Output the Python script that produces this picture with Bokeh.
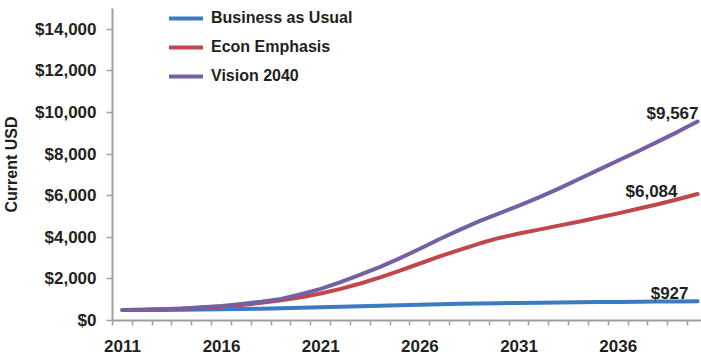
from bokeh.plotting import figure
from bokeh.models import (Range1d, FixedTicker, NumeralTickFormatter, Legend, LegendItem,
                          ColumnDataSource)
from bokeh.embed import file_html
from bokeh.resources import INLINE
from bokeh.core.properties import value

# ---------------- data ----------------
years = list(range(2011, 2041))

business_as_usual = [500, 505, 510, 515, 525, 535, 550, 565, 585, 610,
                     635, 660, 685, 710, 735, 760, 780, 800, 815, 830,
                     845, 855, 865, 875, 885, 893, 901, 910, 918, 927]

econ_emphasis = [500, 520, 540, 570, 610, 670, 750, 850, 970, 1120,
                 1300, 1520, 1780, 2070, 2400, 2740, 3080, 3400, 3700, 3970,
                 4180, 4370, 4560, 4750, 4950, 5150, 5370, 5590, 5830, 6084]

vision_2040 = [500, 520, 545, 580, 640, 700, 790, 900, 1040, 1260,
               1520, 1840, 2200, 2580, 3000, 3450, 3920, 4360, 4780, 5150,
               5520, 5920, 6340, 6790, 7240, 7690, 8140, 8600, 9070, 9567]

series_names = ["Business as Usual", "Econ Emphasis", "Vision 2040"]
end_labels = ["$927", "$6,084", "$9,567"]
y_ticks = [0, 2000, 4000, 6000, 8000, 10000, 12000, 14000]
x_label_years = [2011, 2016, 2021, 2026, 2031, 2036]
y_axis_title = "Current USD"

# ---------------- style ----------------
colors = ["#3B7BC4", "#C0474B", "#7460A2"]
FONT = "Liberation Sans"
TEXT_COLOR = "#231F20"
AXIS_COLOR = "#A0A0A0"

p = figure(width=701, height=357, output_backend="svg", toolbar_location=None,
           x_range=Range1d(years[0] - 0.5, years[-1] + 0.2),
           y_range=Range1d(0, 15000),
           min_border_left=112, min_border_right=0, min_border_top=8,
           min_border_bottom=37)
p.outline_line_color = None
p.grid.visible = False
p.background_fill_color = "white"
p.border_fill_color = "white"

# x axis: ticks at category boundaries (minor), labels every 5 years
xa = p.xaxis[0]
xa.ticker = FixedTicker(ticks=x_label_years,
                        minor_ticks=[y - 0.5 for y in years])
xa.major_label_overrides = {y: str(y) for y in x_label_years}
xa.major_tick_out = 0
xa.major_tick_in = 0
xa.minor_tick_out = 5
xa.minor_tick_in = 0
xa.minor_tick_line_color = AXIS_COLOR
xa.minor_tick_line_width = 1.5
xa.axis_line_color = AXIS_COLOR
xa.axis_line_width = 2
xa.major_label_standoff = 14
xa.major_label_text_font = FONT
xa.major_label_text_font_style = "bold"
xa.major_label_text_font_size = "17px"
xa.major_label_text_color = TEXT_COLOR

ya = p.yaxis[0]
ya.ticker = FixedTicker(ticks=y_ticks, minor_ticks=[])
ya.formatter = NumeralTickFormatter(format="$0,0")
ya.major_tick_out = 6
ya.major_tick_in = 0
ya.major_tick_line_color = AXIS_COLOR
ya.major_tick_line_width = 1.5
ya.minor_tick_out = 0
ya.minor_tick_in = 0
ya.axis_line_color = AXIS_COLOR
ya.axis_line_width = 2
ya.major_label_standoff = 10
ya.major_label_text_font = FONT
ya.major_label_text_font_style = "bold"
ya.major_label_text_font_size = "17px"
ya.major_label_text_color = TEXT_COLOR
ya.axis_label = y_axis_title
ya.axis_label_standoff = 12
ya.axis_label_text_font = FONT
ya.axis_label_text_font_style = "bold"
ya.axis_label_text_font_size = "16px"
ya.axis_label_text_color = TEXT_COLOR

# lines
renderers = []
for vals, c in zip([business_as_usual, econ_emphasis, vision_2040], colors):
    r = p.line(years, vals, line_color=c, line_width=4,
               line_cap="round", line_join="round")
    renderers.append(r)

legend = Legend(items=[LegendItem(label=n, renderers=[r]) for n, r in zip(series_names, renderers)],
                location=(57, 234), glyph_width=34, glyph_height=20,
                label_height=20, spacing=9, padding=0, margin=0, label_standoff=8,
                border_line_color=None, background_fill_alpha=0,
                label_text_font=FONT, label_text_font_style="bold",
                label_text_font_size="16px", label_text_color=TEXT_COLOR)
p.add_layout(legend)

# end-of-line value labels
lab_src = ColumnDataSource(dict(
    x=[years[-1]] * 3,
    y=[business_as_usual[-1], econ_emphasis[-1], vision_2040[-1]],
    text=end_labels,
    xo=[-9, -20, 1],
    yo=[-8, -2, -8],
))
p.text(x="x", y="y", text="text", x_offset="xo", y_offset="yo", source=lab_src,
       text_align="right", text_baseline="alphabetic",
       text_font=value(FONT), text_font_style="bold", text_font_size="17px",
       text_color=TEXT_COLOR)

open("out.html", "w").write(file_html(p, INLINE))
